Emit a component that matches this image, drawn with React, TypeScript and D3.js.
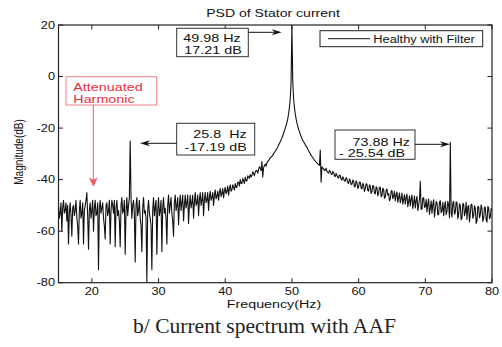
import React from 'react';
import * as d3 from 'd3';

// PSD samples, 0.125 Hz apart starting at 15 Hz (one row = one Hz)
const F_START = 15;
const F_STEP = 0.125;
const psd = [
  -50, -55, -53, -49, -60, -51, -48, -53, // 15
  -52, -49, -56, -50, -65, -53, -49, -54, // 16
  -62, -51, -50, -54, -52, -48, -55, -58, // 17
  -65, -52, -48, -55, -53, -49, -65, -52, // 18
  -50, -48, -45, -54, -67, -52, -49, -55, // 19
  -52, -48, -60, -51, -48, -54, -53, -49, // 20
  -75, -51, -48, -53, -51, -49, -55, -58, // 21
  -63, -50, -49, -54, -52, -48, -65, -52, // 22
  -48, -50, -53, -48, -66, -51, -48, -54, // 23
  -52, -56, -66, -50, -47, -53, -52, -48, // 24
  -69, -52, -47, -54, -50, -47, -25, -47, // 25
  -55, -50, -48, -53, -72, -50, -47, -54, // 26
  -52, -48, -55, -58, -68, -51, -47, -53, // 27
  -52, -55, -79.5, -52, -48, -53, -55, -58, // 28
  -75, -52, -47, -54, -51, -48, -69, -52, // 29
  -47, -54, -52, -48, -68, -51, -47, -53, // 30
  -51, -55, -65, -50, -46, -53, -50, -47, // 31
  -53, -56, -62, -49, -46, -52, -50, -47, // 32
  -57.5, -50, -46, -52, -49, -46, -56, -50, // 33
  -46, -51, -49, -46, -57, -50, -46, -51, // 34
  -49, -46, -55, -49, -45, -50, -49, -46, // 35
  -54, -48, -45, -50, -48, -45, -54, -48, // 36
  -45, -49, -48, -45, -52, -47, -44.5, -48, // 37
  -47, -45, -50, -46, -44, -47.5, -46.5, -44.5, // 38
  -48, -45, -43.5, -46.5, -45.5, -43.5, -47, -44.5, // 39
  -43, -45.5, -44.5, -42.5, -46, -43.5, -42, -44.5, // 40
  -44, -42, -43, -44, -41.5, -43, -43, -41, // 41
  -41, -42.5, -40, -41.5, -41.5, -39.5, -40.5, -41.5, // 42
  -39, -40.5, -40.5, -38.5, -39, -39.5, -38, -39, // 43
  -38.5, -37, -37.5, -38.5, -37, -36.5, -36.5, -37.5, // 44
  -36, -35, -35.5, -36.5, -33, -39, -35.5, -34.5, // 45
  -34, -34.8, -33.5, -33, -32.5, -32.2, -31.5, -31.3, // 46
  -31, -30.5, -30, -29.5, -29, -28.5, -28, -27.3, // 47
  -26.5, -26, -25.3, -24.6, -23.8, -23, -22, -21, // 48
  -20, -19, -17.8, -16.4, -14.5, -12, -8.5, -2, // 49
  20, -2, -8.5, -12, -14.5, -16.4, -18, -19.3, // 50
  -20.5, -21.4, -22.3, -23.2, -24, -24.7, -25.3, -25.9, // 51
  -26.5, -27, -27.5, -28.2, -28.8, -29.4, -30, -30.5, // 52
  -31, -31.5, -32, -32.4, -32.8, -33.2, -33.5, -33.9, // 53
  -34.2, -34.5, -28.5, -41, -35, -35.5, -35.8, -36.5, // 54
  -36.3, -35.6, -36.8, -37.2, -37.5, -36.4, -36.9, -37.8, // 55
  -38, -36.9, -37.2, -38.5, -38.8, -37.6, -38.3, -39.2, // 56
  -39.4, -38.2, -38.5, -39.8, -40.2, -38.9, -39.6, -40.6, // 57
  -40.5, -39.2, -39.8, -41.2, -41.5, -39.8, -40.3, -41.9, // 58
  -41.8, -40.2, -40.6, -42.8, -42.5, -40.5, -41.2, -43.4, // 59
  -42.8, -40.9, -41, -43.3, -43.6, -41.4, -42.2, -44.6, // 60
  -43.5, -41.6, -41.8, -44.2, -44.5, -42, -42.6, -45.4, // 61
  -44.6, -42.3, -42.5, -45.2, -45.5, -42.8, -43.2, -46.3, // 62
  -45.3, -43, -43, -46.6, -46.2, -43.4, -43.8, -47.2, // 63
  -46.8, -44.2, -43.6, -46, -45.4, -48.2, -47.5, -44.6, // 64
  -44.2, -47.4, -46.5, -44.5, -48.3, -46, -44.8, -48.8, // 65
  -47, -45.2, -49, -47.5, -45.2, -49.5, -47.8, -45.8, // 66
  -49.5, -47, -45.6, -50.5, -48.6, -46.3, -50.2, -47.6, // 67
  -46, -51.2, -49, -46.4, -51, -48.2, -46.5, -52, // 68
  -50, -47.5, -40.7, -51.5, -51.5, -47.2, -47, -50.8, // 69
  -50.5, -47.6, -52.5, -49.4, -47.5, -53.5, -51, -48.2, // 70
  -53, -49.6, -47.8, -54.5, -51.5, -48.5, -49, -53.6, // 71
  -53.5, -48.6, -48.2, -52.8, -52, -48.8, -54, -50.4, // 72
  -48.5, -53.6, -52.3, -48.4, -50, -54.8, -25.5, -52.8, // 73
  -54.5, -49, -48.5, -53.4, -52.7, -48.6, -49, -55.2, // 74
  -53.5, -49.4, -50, -55.6, -55, -49.2, -49.5, -54, // 75
  -52.5, -48.8, -55.5, -50.6, -50, -56.4, -53, -49.5, // 76
  -49.8, -55, -54, -50.2, -51, -57, -56, -50.4, // 77
  -50.5, -54.8, -53.5, -49.8, -51.2, -56.2, -55, -50.6, // 78
  -50.8, -55.6, -56.5, -50.4, -51, -55.2, -54.5, -51.2, // 79
  -52, // 80
];

const xTicks = [20, 30, 40, 50, 60, 70, 80];
const yTicks = [-80, -60, -40, -20, 0, 20];

const W = 502;
const H = 347;
const FONT = '"Liberation Sans", Arial, Helvetica, sans-serif';
const SX = 1.28; // the figure text is a little wide

const x = d3.scaleLinear().domain([15, 80]).range([58.5, 492]);
const y = d3.scaleLinear().domain([-80, 20]).range([282.7, 25]);

const T = ({ x, y, size = 10, anchor = 'start', fill = '#111', sx = SX, children }: any) => (
  <text
    transform={`translate(${x},${y}) scale(${sx},1)`}
    fontSize={size}
    textAnchor={anchor}
    fill={fill}
    fontFamily={FONT}
    style={{ whiteSpace: 'pre' }}
  >
    {children}
  </text>
);

// line with a notched head at (x2, y2)
const Arrow = ({ x1, y1, x2, y2, color = '#111', len = 10, half = 3 }: any) => {
  const a = Math.atan2(y2 - y1, x2 - x1);
  const c = Math.cos(a), s = Math.sin(a);
  const bx = x2 - len * c, by = y2 - len * s;
  const nx = x2 - len * 0.7 * c, ny = y2 - len * 0.7 * s;
  const head = `M${x2},${y2}L${bx - half * s},${by + half * c}L${nx},${ny}L${bx + half * s},${by - half * c}Z`;
  return (
    <g>
      <line x1={x1} y1={y1} x2={nx} y2={ny} stroke={color} strokeWidth={1} />
      <path d={head} fill={color} />
    </g>
  );
};

export default function App() {
  const [x0, x1] = x.range();
  const [yb, yt] = y.range();
  const pts: [number, number][] = psd.map((v, i) => [F_START + i * F_STEP, v]);
  const line = d3.line<[number, number]>().x(d => x(d[0])).y(d => y(d[1]));
  const tk = 4.5;

  return (
    <div>
      <style>{`body{margin:0;background:#fff}`}</style>
      <svg width={W} height={H} style={{ display: 'block' }}>
        <rect width={W} height={H} fill="#fff" />
        <defs>
          <clipPath id="plot">
            <rect x={x0} y={yt} width={x1 - x0} height={yb - yt} />
          </clipPath>
        </defs>

        <path d={line(pts) || ''} fill="none" stroke="#111" strokeWidth={1.1} clipPath="url(#plot)" strokeLinejoin="round" />

        {/* axes box and ticks */}
        <rect x={x0} y={yt} width={x1 - x0} height={yb - yt} fill="none" stroke="#222" strokeWidth={1.2} />
        {xTicks.map(t => (
          <g key={'x' + t}>
            <line x1={x(t)} x2={x(t)} y1={yb} y2={yb - tk} stroke="#222" />
            <line x1={x(t)} x2={x(t)} y1={yt} y2={yt + tk} stroke="#222" />
            <T x={x(t)} y={295} anchor="middle">{t}</T>
          </g>
        ))}
        {yTicks.map(t => (
          <g key={'y' + t}>
            <line x1={x0} x2={x0 + tk} y1={y(t)} y2={y(t)} stroke="#222" />
            <line x1={x1} x2={x1 - tk} y1={y(t)} y2={y(t)} stroke="#222" />
            <T x={55} y={y(t) + 3.6} anchor="end">{t}</T>
          </g>
        ))}

        <T x={273} y={17} size={11} anchor="middle">PSD of Stator current</T>
        <T x={274} y={308} size={11} anchor="middle" sx={1.3}>Frequency(Hz)</T>
        <text
          transform={`translate(23.3,152) scale(${SX},1) rotate(-90)`}
          fontSize={10}
          textAnchor="middle"
          fontFamily={FONT}
          fill="#111"
        >
          Magnitude(dB)
        </text>

        {/* legend */}
        <rect x={320} y={30.7} width={162.7} height={16} fill="#fff" stroke="#222" strokeWidth={1} />
        <line x1={328} x2={370} y1={38.7} y2={38.7} stroke="#111" />
        <T x={373.3} y={42.5}>Healthy with Filter</T>

        {/* 49.98 Hz */}
        <rect x={176.7} y={28.3} width={71.6} height={28.4} fill="#fff" stroke="#333" />
        <T x={212} y={41.7} size={11.2} anchor="middle">49.98 Hz</T>
        <T x={213} y={54.3} size={11.2} anchor="middle">17.21 dB</T>
        <Arrow x1={248.3} y1={32.3} x2={281.7} y2={32.3} />

        {/* 25.8 Hz */}
        <rect x={176.7} y={123.3} width={78} height={31.7} fill="#fff" stroke="#333" />
        <T x={246.7} y={138.3} size={11.2} anchor="end">{'25.8\u00a0\u00a0Hz'}</T>
        <T x={246.7} y={150.5} size={11.2} anchor="end">-17.19 dB</T>
        <Arrow x1={176.7} y1={143.3} x2={140} y2={143.3} />

        {/* 73.88 Hz */}
        <rect x={335} y={130} width={80} height={29.3} fill="#fff" stroke="#333" />
        <T x={410} y={145.5} size={11.2} anchor="end">73.88 Hz</T>
        <T x={339} y={157} size={11.2}>- 25.54 dB</T>
        <Arrow x1={415} y1={144.3} x2={450} y2={144.3} />

        {/* attenuated harmonic */}
        <rect x={66} y={76.7} width={90.7} height={28.3} fill="#fff" stroke="#f08088" strokeWidth={1} />
        <T x={73.3} y={90.7} size={11.2} fill="#e8303c">Attenuated</T>
        <T x={73.3} y={103.2} size={11.2} fill="#e8303c">Harmonic</T>
        <Arrow x1={93.3} y1={105} x2={93.3} y2={186.7} color="#ef5a64" len={9.5} half={4.5} />

        <text x={264.5} y={333} fontSize={21.5} textAnchor="middle" fontFamily='"Liberation Serif", "Times New Roman", serif' fill="#222">
          b/ Current spectrum with AAF
        </text>
      </svg>
    </div>
  );
}
